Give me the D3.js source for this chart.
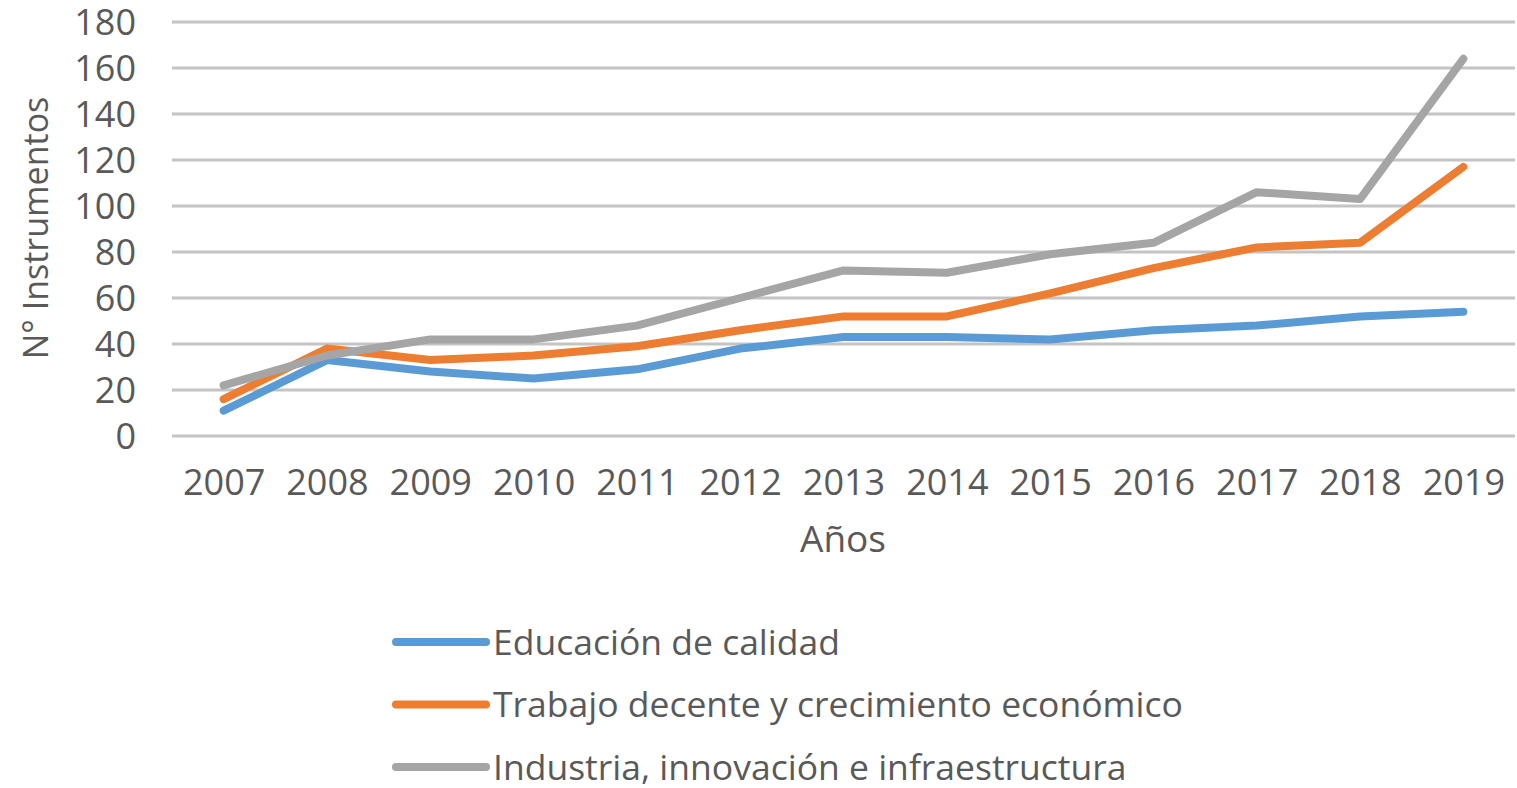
<!DOCTYPE html>
<html>
<head>
<meta charset="utf-8">
<script src="https://cdn.jsdelivr.net/npm/d3@7"></script>
<style>
  html, body { margin: 0; padding: 0; background: #fff; }
  svg { display: block; }
  text { font-family: "Open Sans", "Liberation Sans", sans-serif; fill: #595959; }
</style>
</head>
<body>
<svg id="chart" width="1517" height="788"></svg>
<script>
const years = ["2007","2008","2009","2010","2011","2012","2013","2014","2015","2016","2017","2018","2019"];
const educacion = [11, 33, 28, 25, 29, 38, 43, 43, 42, 46, 48, 52, 54];
const trabajo = [16, 38, 33, 35, 39, 46, 52, 52, 62, 73, 82, 84, 117];
const industria = [22, 35, 42, 42, 48, 60, 72, 71, 79, 84, 106, 103, 164];
const seriesNames = ["Educación de calidad", "Trabajo decente y crecimiento económico", "Industria, innovación e infraestructura"];
const seriesColors = ["#5B9BD5", "#ED7D31", "#A5A5A5"];
const yTicks = [0, 20, 40, 60, 80, 100, 120, 140, 160, 180];
const xTitle = "Años";
const yTitle = "N° Instrumentos";

const seriesValues = [educacion, trabajo, industria];
const svg = d3.select("#chart");

const plotLeft = 172, plotRight = 1515, plotTop = 22, plotBottom = 436;
const x = d3.scalePoint().domain(years).range([plotLeft, plotRight]).padding(0.5);
const y = d3.scaleLinear().domain([0, 180]).range([plotBottom, plotTop]);

// gridlines
svg.append("g").selectAll("line").data(yTicks).join("line")
  .attr("x1", plotLeft).attr("x2", plotRight)
  .attr("y1", d => y(d)).attr("y2", d => y(d))
  .attr("stroke", "#c4c4c4").attr("stroke-width", 3);

// y axis labels
const yAxis = d3.axisLeft(y).tickValues(yTicks).tickSize(0).tickPadding(0);
const gy = svg.append("g").attr("transform", `translate(136,0)`).call(yAxis);
gy.select(".domain").remove();
gy.selectAll("text").attr("font-size", 36).attr("font-family", "Open Sans").attr("fill", "#595959").attr("dy", "0.35em");

// x axis labels
const xAxis = d3.axisBottom(x).tickSize(0).tickPadding(0);
const gx = svg.append("g").attr("transform", `translate(0,469)`).call(xAxis);
gx.select(".domain").remove();
gx.selectAll("text").attr("font-size", 36).attr("font-family", "Open Sans").attr("fill", "#595959").attr("dy", "0.71em");

// axis titles
svg.append("text").attr("x", 843).attr("y", 552).attr("text-anchor", "middle")
  .attr("font-size", 37).text(xTitle);
svg.append("text").attr("transform", "translate(48,228) rotate(-90)").attr("text-anchor", "middle")
  .attr("font-size", 34).text(yTitle);

// lines
const line = d3.line().x((d, i) => x(years[i])).y(d => y(d));
svg.append("g").selectAll("path").data(seriesValues).join("path")
  .attr("d", d => line(d))
  .attr("fill", "none")
  .attr("stroke", (d, i) => seriesColors[i])
  .attr("stroke-width", 8)
  .attr("stroke-linejoin", "round")
  .attr("stroke-linecap", "round");

// legend
const lg = svg.append("g").selectAll("g").data(seriesNames).join("g")
  .attr("transform", (d, i) => `translate(0,${642 + i * 62.5})`);
lg.append("line").attr("x1", 396).attr("x2", 486).attr("y1", 0).attr("y2", 0)
  .attr("stroke", (d, i) => seriesColors[i]).attr("stroke-width", 8).attr("stroke-linecap", "round");
lg.append("text").attr("x", 493).attr("y", 0).attr("dy", "0.36em")
  .attr("font-size", 35.5).text(d => d);
</script>
</body>
</html>
